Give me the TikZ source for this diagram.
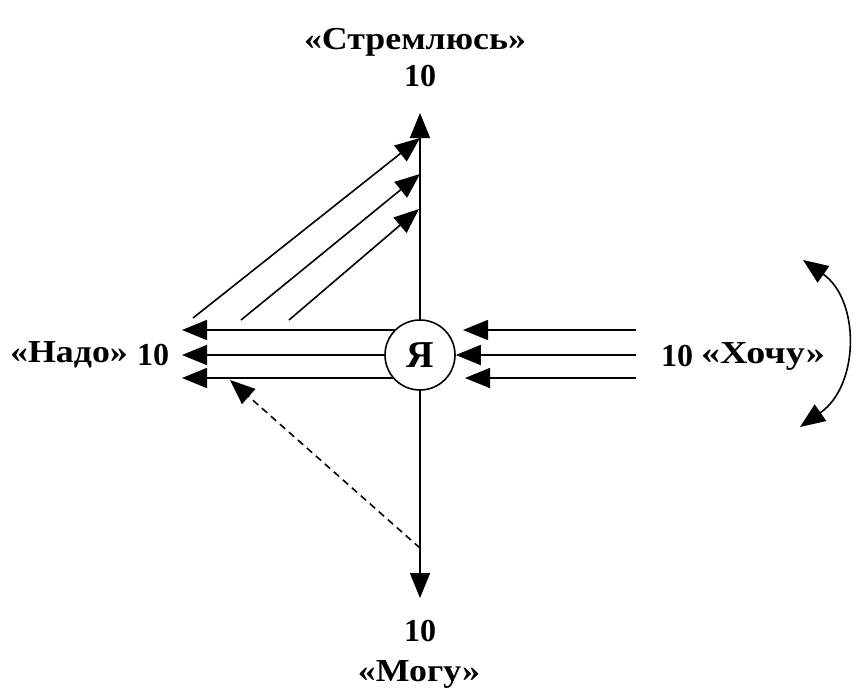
\documentclass[tikz,border=0pt]{standalone}
\usepackage{fontspec}
\setmainfont{Liberation Serif}
\usetikzlibrary{arrows.meta}
\tikzset{
  lbl/.style={inner sep=0pt, font=\fontsize{32}{34}\selectfont\bfseries},
  wd/.style={lbl, xscale=1.12},
  ln/.style={line width=1.6pt, -{Triangle[length=25pt,width=20pt]}},
  dln/.style={ln, dash pattern=on 7pt off 5pt},
  dbl/.style={line width=1.6pt, {Triangle[length=25pt,width=20pt]}-{Triangle[length=25pt,width=20pt]}},
  me/.style={circle, draw, line width=1.6pt, fill=white, minimum size=70pt, inner sep=0pt, font=\fontsize{38}{40}\selectfont\bfseries}
}
\begin{document}
\begin{tikzpicture}[x=1pt,y=-1pt]
\useasboundingbox (0,0) rectangle (857,697);
% centre
\node[me] (ya) at (420,355) {Я};
% labels
\node[wd] (up) at (415,42) {«Стремлюсь»};
\node[lbl] (upn) at (420,76) {10};
\node[wd] (left) at (69,355) {«Надо»};
\node[lbl] (leftn) at (153,355) {10};
\node[lbl] (rightn) at (677,356) {10};
\node[wd, xscale=1.06] (right) at (763,356) {«Хочу»};
\node[lbl] (downn) at (420,631) {10};
\node[wd] (down) at (419,674) {«Могу»};
% coordinates
\coordinate (ttip) at (420,113);
\coordinate (btip) at (420,598);
\coordinate (l1s) at (395,330);
\coordinate (l3s) at (393,378);
\coordinate (l1) at (182,330);
\coordinate (l2) at (182,355);
\coordinate (l3) at (182,378);
\coordinate (r1s) at (636,330);
\coordinate (r2s) at (636,355);
\coordinate (r3s) at (636,378);
\coordinate (r1e) at (463,330);
\coordinate (r3e) at (465,378);
\coordinate (d1s) at (193,318);
\coordinate (d1e) at (420,138);
\coordinate (d2s) at (241,320);
\coordinate (d2e) at (420,174);
\coordinate (d3s) at (289,320);
\coordinate (d3e) at (419,209);
\coordinate (dss) at (420,548);
\coordinate (dse) at (230,380);
\coordinate (cs) at (803,260);
\coordinate (ce) at (800,427);
% axes
\draw[ln] (ya.north) -- (ttip);
\draw[ln] (ya.south) -- (btip);
% to the left
\draw[ln] (l1s) -- (l1);
\draw[ln] (ya.west) -- (l2);
\draw[ln] (l3s) -- (l3);
% from the right
\draw[ln] (r1s) -- (r1e);
\draw[ln] (r2s) -- (ya.east);
\draw[ln] (r3s) -- (r3e);
% diagonals
\draw[ln] (d1s) -- (d1e);
\draw[ln] (d2s) -- (d2e);
\draw[ln] (d3s) -- (d3e);
\draw[dln] (dss) -- (dse);
% curved double arrow
\draw[dbl] (cs) .. controls (860,300) and (860,385) .. (ce);
\end{tikzpicture}
\end{document}
